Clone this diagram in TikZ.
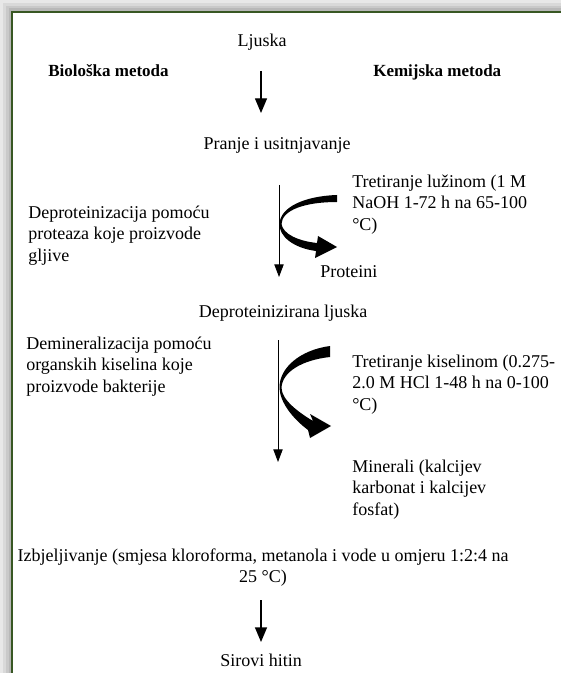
\documentclass[tikz,border=0pt]{standalone}
\usepackage{fontspec}
\setmainfont{Liberation Serif}
\usetikzlibrary{arrows.meta}

\definecolor{framegreen}{RGB}{56,87,35}

\begin{document}
\begin{tikzpicture}[x=0.75pt, y=-0.75pt,
  txt/.style={font=\fontsize{13.5}{16.1}\selectfont, inner sep=0pt, align=left},
  head/.style={font=\fontsize{12.75}{15.3}\selectfont\bfseries, inner sep=0pt},
  mainflow/.style={line width=1pt, -{Triangle[length=11pt, width=9pt]}},
  sideflow/.style={line width=0.7pt, -{Triangle[length=9.5pt, width=7pt]}}]

\useasboundingbox (0,0) rectangle (561,673);

% Shadow and frame
\fill[black!9] (0,0) rectangle (561,673);
\fill[black!15] (3,3) rectangle (561,673);
\fill[black!21] (6,6) rectangle (561,673);
\fill[black!28] (8.5,8.5) rectangle (561,673);
\fill[white] (11,11) rectangle (561,673);
\draw[framegreen, line width=1.9pt] (11.8,673) -- (11.8,11.8) -- (561,11.8);

% Headings
\node[txt, anchor=base] (ljuska) at (262,47) {Ljuska};
\node[head, anchor=base west] (bio) at (48,77) {Biološka metoda};
\node[head, anchor=base west] (kem) at (373,77) {Kemijska metoda};

% Washing
\coordinate (a1s) at (261,71);
\coordinate (a1e) at (261,113);
\draw[mainflow] (a1s) -- (a1e);
\node[txt, anchor=base] (pranje) at (277,150) {Pranje i usitnjavanje};

% Deproteinization
\node[txt, anchor=north west] (deprot) at (28,205.5) {Deproteinizacija pomoću\\proteaza koje proizvode\\gljive};
\node[txt, anchor=north west] (luzina) at (352,174.5) {Tretiranje lužinom (1 M\\NaOH 1-72 h na 65-100\\°C)};
\coordinate (a2s) at (279,185);
\coordinate (a2e) at (279,277);
\draw[sideflow] (a2s) -- (a2e);
\fill (337,195) .. controls (305,196) and (280,207) .. (279.5,224)
  .. controls (279,236) and (293,248) .. (316,251)
  -- (315,258) -- (337,247) -- (318,236) -- (317,243)
  .. controls (298,241) and (283,234) .. (281.5,224)
  .. controls (282,210) and (305,202) .. (337,202) -- cycle;
\node[txt, anchor=base west] (proteini) at (320,277) {Proteini};
\node[txt, anchor=base] (deprlj) at (283,317) {Deproteinizirana ljuska};

% Demineralization
\node[txt, anchor=north west] (demin) at (26,336.5) {Demineralizacija pomoću\\organskih kiselina koje\\proizvode bakterije};
\node[txt, anchor=north west] (kiselina) at (352,354.5) {Tretiranje kiselinom (0.275-\\2.0 M HCl 1-48 h na 0-100\\°C)};
\coordinate (a3s) at (278,340);
\coordinate (a3e) at (278,462);
\draw[sideflow] (a3s) -- (a3e);
\fill (330,346) .. controls (300,350) and (279,368) .. (279.5,388)
  .. controls (280,402) and (292,418) .. (308,430)
  -- (310,438) -- (331,426) -- (310,414) -- (313,421)
  .. controls (298,412) and (282,400) .. (281.5,388)
  .. controls (282,372) and (302,360) .. (330,357) -- cycle;
\node[txt, anchor=north west] (minerali) at (352,459.5) {Minerali (kalcijev\\karbonat i kalcijev\\fosfat)};

% Bleaching
\node[txt, anchor=north, align=center] (izbj) at (263,548.5) {Izbjeljivanje (smjesa kloroforma, metanola i vode u omjeru 1:2:4 na\\25 °C)};
\coordinate (a4s) at (261,600);
\coordinate (a4e) at (261,642);
\draw[mainflow] (a4s) -- (a4e);
\node[txt, anchor=base] (sirovi) at (261,666) {Sirovi hitin};

\end{tikzpicture}
\end{document}
